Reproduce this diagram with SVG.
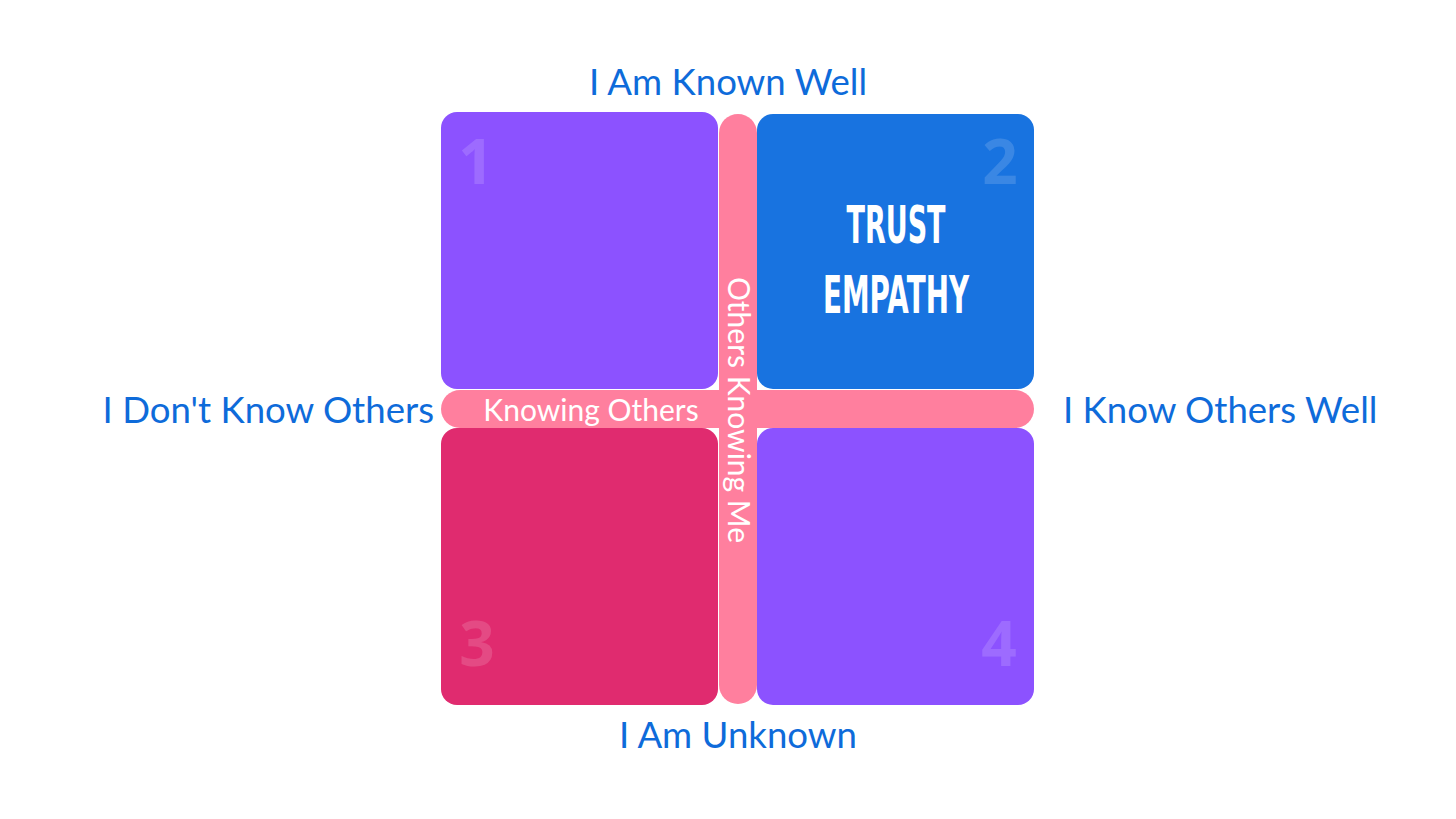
<svg xmlns="http://www.w3.org/2000/svg" width="1456" height="819" viewBox="0 0 1456 819">
<style>
.axis{font-family:"Lato","Open Sans",sans-serif;font-size:36.6px;fill:#0E6BDA}
.bar{fill:#FF7F9E}
.barlbl{font-family:"Lato","Open Sans",sans-serif;font-size:30px;fill:#FFFFFF}
.num{font-family:"Open Sans","Liberation Sans",sans-serif;font-weight:bold;font-size:62px;fill:#FFFFFF;fill-opacity:0.15}
.big{font-family:"DejaVu Sans","Liberation Sans",sans-serif;font-weight:bold;font-size:51px;fill:#FFFFFF}
</style>
<rect width="1456" height="819" fill="#FFFFFF"/>
<g id="connectors">
<rect class="bar" x="719" y="114" width="38" height="590" rx="19"/>
<rect class="bar" x="441" y="390" width="593" height="38" rx="19"/>
</g>
<g id="q1">
<rect x="441" y="112" width="277" height="277" rx="16" fill="#8C52FF"/>
<text class="num" x="476" y="184" text-anchor="middle">1</text>
</g>
<g id="q2">
<rect x="757" y="114" width="277" height="275" rx="16" fill="#1873E0"/>
<text class="num" x="1000" y="184" text-anchor="middle">2</text>
<text class="big" x="896" y="243" text-anchor="middle" transform="translate(896 0) scale(0.53 1) translate(-896 0)">TRUST</text>
<text class="big" x="896" y="313" text-anchor="middle" transform="translate(896 0) scale(0.545 1) translate(-896 0)">EMPATHY</text>
</g>
<g id="q3">
<rect x="441" y="428" width="277" height="277" rx="16" fill="#E02B6F"/>
<text class="num" x="477" y="666" text-anchor="middle">3</text>
</g>
<g id="q4">
<rect x="757" y="428" width="277" height="277" rx="16" fill="#8C52FF"/>
<text class="num" x="999" y="666" text-anchor="middle">4</text>
</g>
<g id="bar-labels">
<text class="barlbl" x="591" y="421" text-anchor="middle">Knowing Others</text>
<text class="barlbl" x="0" y="0" text-anchor="middle" transform="translate(728 410) rotate(90)">Others Knowing Me</text>
</g>
<g id="axis-labels">
<text class="axis" x="728" y="95" text-anchor="middle">I Am Known Well</text>
<text class="axis" x="738" y="748" text-anchor="middle">I Am Unknown</text>
<text class="axis" x="434" y="423" text-anchor="end">I Don't Know Others</text>
<text class="axis" x="1063" y="423" text-anchor="start">I Know Others Well</text>
</g>
</svg>
